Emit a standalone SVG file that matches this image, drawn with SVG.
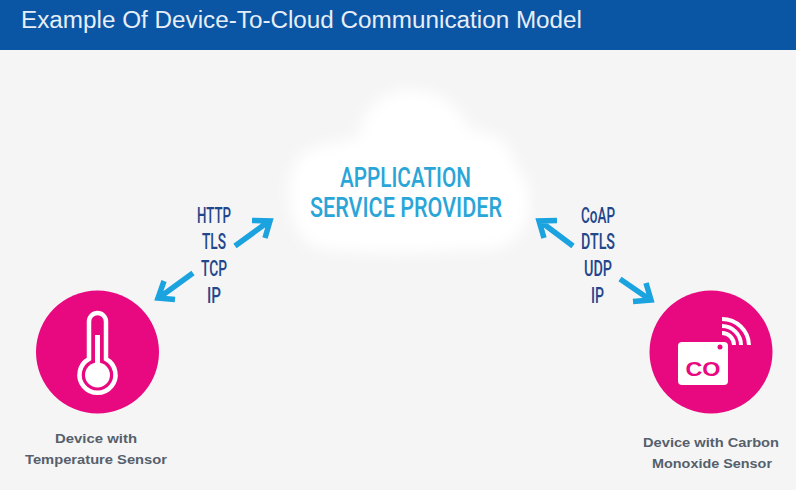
<svg xmlns="http://www.w3.org/2000/svg" width="796" height="490" viewBox="0 0 796 490">
<style>
.title{font-family:"Liberation Sans",Arial,sans-serif;font-size:23px;fill:#e6eef7}
.cloudt{font-family:"Roboto","Liberation Sans",sans-serif;font-size:28px;font-weight:500;fill:#2aa5d8}
.proto{font-family:"Roboto","Liberation Sans",sans-serif;font-size:22px;font-weight:500;fill:#23468a}
.lab{font-family:"Liberation Sans",Arial,sans-serif;font-size:13.5px;font-weight:700;fill:#56606b}
.arr{fill:none;stroke:#1ba3e0;stroke-width:5.500;stroke-linecap:butt;stroke-linejoin:miter}
.pink{fill:#e8087f}
.wl{fill:none;stroke:#fff;stroke-width:4.500}
</style>
<defs><filter id="soft" x="-15%" y="-15%" width="130%" height="130%"><feGaussianBlur stdDeviation="7"/></filter></defs>
<rect width="796" height="490" fill="#f5f5f6"/>
<g id="header">
<rect width="796" height="50" fill="#0b55a5"/>
<text class="title" x="21" y="28" textLength="561" lengthAdjust="spacingAndGlyphs">Example Of Device-To-Cloud Communication Model</text>
</g>
<g id="cloud">
<path filter="url(#soft)" fill="#fff" d="M292 215 C284 185 290 155 315 148 C330 143 345 140 358 138 C362 105 388 88 415 90 C445 92 462 110 470 130 C495 130 515 146 516 168 C532 178 534 208 524 228 C514 248 490 252 465 250 C420 254 370 254 330 250 C310 250 298 238 292 215Z"/>
<text class="cloudt" x="340" y="187" textLength="131" lengthAdjust="spacingAndGlyphs">APPLICATION</text>
<text class="cloudt" x="310" y="217" textLength="192" lengthAdjust="spacingAndGlyphs">SERVICE PROVIDER</text>
</g>
<g id="connectors">
<path class="arr" d="M235 246L268 222M252 220.500L270 221L265 238"/>
<path class="arr" d="M193 273L160 297M175 299.500L158 298L164 281"/>
<path class="arr" d="M573 246L541 222M557 220.500L539 221L544 238"/>
<path class="arr" d="M620 279L649 299M633 301.500L651 300L646 283"/>
</g>
<g id="protocols-left">
<text class="proto" x="197" y="223" textLength="34" lengthAdjust="spacingAndGlyphs">HTTP</text>
<text class="proto" x="202" y="249" textLength="24" lengthAdjust="spacingAndGlyphs">TLS</text>
<text class="proto" x="201" y="276" textLength="26" lengthAdjust="spacingAndGlyphs">TCP</text>
<text class="proto" x="207" y="303" textLength="14" lengthAdjust="spacingAndGlyphs">IP</text>
</g>
<g id="protocols-right">
<text class="proto" x="581" y="223" textLength="34" lengthAdjust="spacingAndGlyphs">CoAP</text>
<text class="proto" x="581" y="249" textLength="34" lengthAdjust="spacingAndGlyphs">DTLS</text>
<text class="proto" x="584" y="276" textLength="28" lengthAdjust="spacingAndGlyphs">UDP</text>
<text class="proto" x="591" y="303" textLength="13" lengthAdjust="spacingAndGlyphs">IP</text>
</g>
<g id="device-temperature">
<circle class="pink" cx="97.500" cy="352" r="61.500"/>
<path class="wl" d="M89 359V321.500a8.500 8.500 0 0 1 17 0V359a18 18 0 1 1-17 0Z"/>
<circle cx="97.500" cy="375" r="12.500" fill="#fff"/>
<rect x="95" y="335" width="5" height="30" fill="#fff"/>
<text class="lab" x="55" y="443" textLength="82" lengthAdjust="spacingAndGlyphs">Device with</text>
<text class="lab" x="25" y="464" textLength="142" lengthAdjust="spacingAndGlyphs">Temperature Sensor</text>
</g>
<g id="device-co">
<circle class="pink" cx="711" cy="352" r="61.500"/>
<rect x="678" y="342" width="50" height="43" rx="4" fill="#fff"/>
<circle class="pink" cx="720" cy="347" r="2.500"/>
<text x="703" y="376" text-anchor="middle" font-family="Liberation Sans,Arial,sans-serif" font-size="21" font-weight="700" fill="#e8087f" textLength="35" lengthAdjust="spacingAndGlyphs">CO</text>
<path fill="none" stroke="#fff" stroke-width="4" d="M722 333A12 12 0 0 1 734 345M722 326A19 19 0 0 1 741 345M722 319A27 27 0 0 1 749 345"/>
<text class="lab" x="643" y="447" textLength="136" lengthAdjust="spacingAndGlyphs">Device with Carbon</text>
<text class="lab" x="652" y="468" textLength="120" lengthAdjust="spacingAndGlyphs">Monoxide Sensor</text>
</g>
</svg>
